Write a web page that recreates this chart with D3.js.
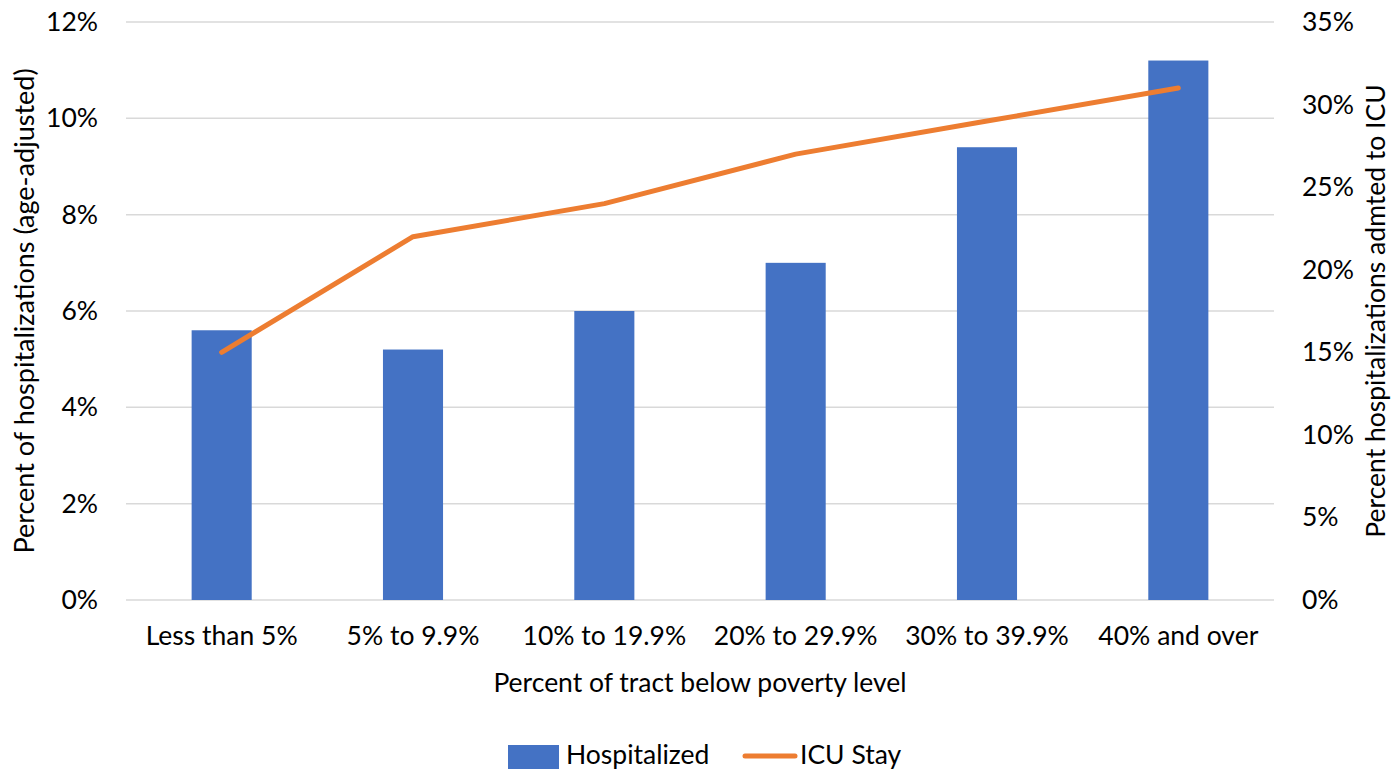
<!DOCTYPE html>
<html>
<head>
<meta charset="utf-8">
<script src="https://cdn.jsdelivr.net/npm/d3@7"></script>
<style>
    body { margin: 0; background: #fff; }
    text { font-family: Lato, "Noto Sans", sans-serif; fill: #000; }
</style>
</head>
<body>
<div id="chart"></div>
<script>
// Chart data
const categories = ["Less than 5%", "5% to 9.9%", "10% to 19.9%", "20% to 29.9%", "30% to 39.9%", "40% and over"]
const hospitalized = [5.6, 5.2, 6.0, 7.0, 9.4, 11.2]
const icuStay = [15, 22, 24, 27, 29, 31]
const leftTicks = [0, 2, 4, 6, 8, 10, 12]
const rightTicks = [0, 5, 10, 15, 20, 25, 30, 35]

const W = 1393, H = 769
const margin = { top: 22, right: 120, bottom: 169, left: 126 },
    width = 1274 - margin.left,
    height = 600 - margin.top

const fs = 26.5

const svg = d3.select("#chart")
    .append("svg")
    .attr("width", W)
    .attr("height", H)

const g = svg.append("g")
    .attr("transform", `translate(${margin.left},${margin.top})`)

// Scales
const xScale = d3.scaleBand().domain(categories).range([0, width]).paddingInner(0.686).paddingOuter(0.343)
const yLeft = d3.scaleLinear().domain([0, 12]).range([height, 0])
const yRight = d3.scaleLinear().domain([0, 35]).range([height, 0])

// Gridlines
g.append("g")
    .selectAll("line")
    .data(leftTicks)
    .enter()
    .append("line")
    .attr("x1", 0)
    .attr("x2", width)
    .attr("y1", d => yLeft(d))
    .attr("y2", d => yLeft(d))
    .attr("stroke", "#d9d9d9")
    .attr("stroke-width", 1.5)

// Bars
g.append("g")
    .selectAll("rect")
    .data(hospitalized)
    .enter()
    .append("rect")
    .attr("x", (d, i) => xScale(categories[i]))
    .attr("y", d => yLeft(d))
    .attr("width", xScale.bandwidth())
    .attr("height", d => height - yLeft(d))
    .attr("fill", "#4472c4")

// ICU line
const line = d3.line()
    .x((d, i) => xScale(categories[i]) + xScale.bandwidth() / 2)
    .y(d => yRight(d))

g.append("path")
    .datum(icuStay)
    .attr("d", line)
    .attr("fill", "none")
    .attr("stroke", "#ed7d31")
    .attr("stroke-width", 5)
    .attr("stroke-linejoin", "round")
    .attr("stroke-linecap", "round")

// Axes
const xAxis = g.append("g")
    .attr("transform", `translate(0,${height})`)
    .call(d3.axisBottom(xScale).tickSize(0).tickPadding(26))
xAxis.select(".domain").remove()
xAxis.selectAll("text").attr("font-size", fs).style("font-family", "Lato, 'Noto Sans', sans-serif")

const yAxisL = g.append("g")
    .call(d3.axisLeft(yLeft).tickValues(leftTicks).tickFormat(d => d + "%").tickSize(0).tickPadding(28))
yAxisL.select(".domain").remove()
yAxisL.selectAll("text").attr("font-size", fs).style("font-family", "Lato, 'Noto Sans', sans-serif")

const yAxisR = g.append("g")
    .attr("transform", `translate(${width},0)`)
    .call(d3.axisRight(yRight).tickValues(rightTicks).tickFormat(d => d + "%").tickSize(0).tickPadding(28))
yAxisR.select(".domain").remove()
yAxisR.selectAll("text").attr("font-size", fs).style("font-family", "Lato, 'Noto Sans', sans-serif")

// Axis titles
svg.append("text")
    .attr("text-anchor", "middle")
    .attr("x", margin.left + width / 2)
    .attr("y", 692)
    .attr("font-size", fs)
    .text("Percent of tract below poverty level")

svg.append("text")
    .attr("text-anchor", "middle")
    .attr("transform", `translate(34,${margin.top + height / 2}) rotate(-90)`)
    .attr("font-size", 27)
    .text("Percent of hospitalizations (age-adjusted)")

svg.append("text")
    .attr("text-anchor", "middle")
    .attr("transform", `translate(1385,${margin.top + height / 2}) rotate(-90)`)
    .attr("font-size", 26.5)
    .text("Percent hospitalizations admted to ICU")

// Legend
svg.append("rect")
    .attr("x", 508)
    .attr("y", 745)
    .attr("width", 51)
    .attr("height", 24)
    .attr("fill", "#4472c4")
svg.append("text")
    .attr("x", 566)
    .attr("y", 764)
    .attr("font-size", fs)
    .text("Hospitalized")
svg.append("line")
    .attr("x1", 745)
    .attr("x2", 795)
    .attr("y1", 756)
    .attr("y2", 756)
    .attr("stroke", "#ed7d31")
    .attr("stroke-width", 5)
    .attr("stroke-linecap", "round")
svg.append("text")
    .attr("x", 800)
    .attr("y", 764)
    .attr("font-size", fs)
    .text("ICU Stay")
</script>
</body>
</html>
